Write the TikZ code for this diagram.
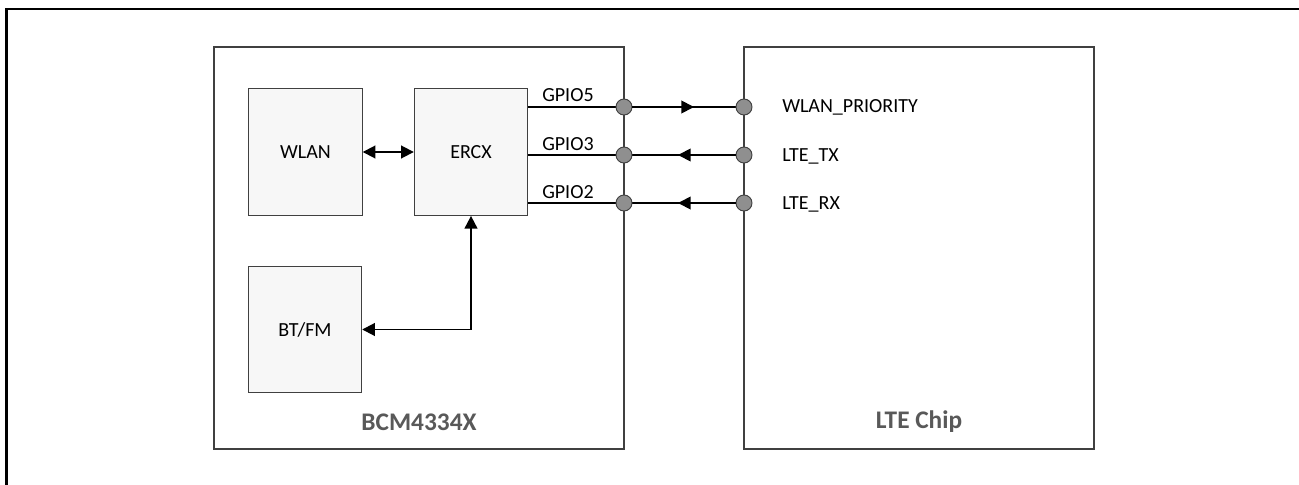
\documentclass[tikz,border=0pt]{standalone}
\usepackage{fontspec}
\setmainfont{Carlito}
\usetikzlibrary{arrows.meta}
\definecolor{boxline}{HTML}{404040}
\definecolor{boxfill}{HTML}{F7F7F7}
\definecolor{pinfill}{HTML}{8F8F8F}
\definecolor{chiplabel}{HTML}{595959}
\begin{document}
\begin{tikzpicture}[x=0.75pt,y=-0.75pt,
  chipbox/.style={draw=boxline,line width=0.8pt,fill=white,inner sep=0pt},
  blockbox/.style={draw=boxline,line width=0.8pt,fill=boxfill,inner sep=0pt,
     minimum width=85pt,minimum height=95pt,font=\fontsize{15}{17}\selectfont},
  pin/.style={circle,draw=boxline,line width=0.7pt,fill=pinfill,minimum size=12pt,inner sep=0pt},
  wire/.style={line width=1.4pt},
  tip/.style={-{Triangle[length=9.5pt,width=9.5pt]}},
  tips/.style={{Triangle[length=9.5pt,width=9.5pt]}-{Triangle[length=9.5pt,width=9.5pt]}},
  siglabel/.style={inner sep=0pt,font=\fontsize{15}{17}\selectfont},
  chipname/.style={inner sep=0pt,font=\fontsize{19}{22}\selectfont\bfseries,text=chiplabel}]
\useasboundingbox (0,0) rectangle (1299,485);
% frame
\draw[line width=1.9pt] (6.5,485) -- (6.5,9) -- (1299,9);
% chips
\node[chipbox,minimum width=307.5pt,minimum height=301.5pt] (bcm) at (419,248) {};
\node[chipbox,minimum width=262.5pt,minimum height=301.5pt] (lte) at (919,248) {};
\node[chipname] (bcmlabel) at (419,422) {BCM4334X};
\node[chipname] (ltelabel) at (919,422) {LTE Chip};
% blocks
\node[blockbox] (wlan) at (305.5,152) {WLAN};
\node[blockbox] (ercx) at (471,152) {ERCX};
\node[blockbox] (btfm) at (305,329.5) {BT/FM};
% pins
\coordinate (r5) at (528,107);
\coordinate (r3) at (528,155);
\coordinate (r2) at (528,203);
\coordinate (m5) at (694,107);
\coordinate (m3) at (678,155);
\coordinate (m2) at (678,203);
\draw[wire] (r5) -- (744,107);
\draw[wire] (r3) -- (744,155);
\draw[wire] (r2) -- (744,203);
\node[pin] (a5) at (624,107) {};
\node[pin] (a3) at (624,155) {};
\node[pin] (a2) at (624,203) {};
\node[pin] (b5) at (744,107) {};
\node[pin] (b3) at (744,155) {};
\node[pin] (b2) at (744,203) {};
\draw[wire,tip] (a5) -- (m5);
\draw[wire,tip] (b3) -- (m3);
\draw[wire,tip] (b2) -- (m2);
% labels
\node[siglabel,anchor=base west] (g5) at (542,102) {GPIO5};
\node[siglabel,anchor=base west] (g3) at (542,150) {GPIO3};
\node[siglabel,anchor=base west] (g2) at (542,198) {GPIO2};
\node[siglabel,anchor=base west] (l5) at (782,113) {WLAN\_PRIORITY};
\node[siglabel,anchor=base west] (l3) at (782,161) {LTE\_TX};
\node[siglabel,anchor=base west] (l2) at (782,209) {LTE\_RX};
% internal connectors
\draw[wire,tips] (wlan.east) -- (ercx.west);
\draw[wire,tips] (btfm.east) -| (ercx.south);
\end{tikzpicture}
\end{document}
